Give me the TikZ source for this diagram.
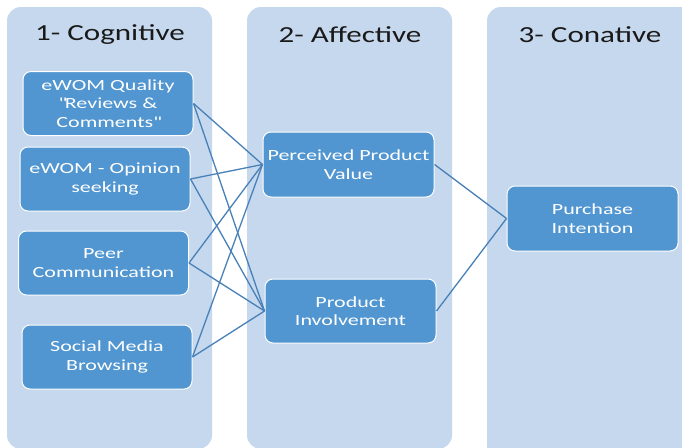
\documentclass[tikz,border=0pt]{standalone}
\usepackage{fontspec}
\setmainfont{Carlito}[FakeStretch=1.35]
\newfontfamily\boxfont{Carlito}[FakeStretch=1.42]
\usepackage{xcolor}
\usepackage{tikz}
\usetikzlibrary{positioning,shapes,arrows.meta,calc}
\definecolor{colbg}{RGB}{198,216,237}
\definecolor{boxblue}{RGB}{81,150,208}
\definecolor{linkblue}{RGB}{72,128,184}
\definecolor{titleblack}{RGB}{25,25,25}
\tikzstyle{col}=[%
      fill=colbg, draw=none, rounded corners=14pt
]
\tikzstyle{ttl}=[%
      text=titleblack, font=\fontsize{23}{26}\selectfont, inner sep=0pt
]
\tikzstyle{bx}=[%
      rectangle, rounded corners=8pt, draw=white, line width=1pt, fill=boxblue,
      text=white, font=\boxfont\fontsize{15.5}{18.5}\selectfont, align=center,
      minimum width=170pt, minimum height=64pt, inner sep=2pt
]
\tikzstyle{lnk}=[%
      draw=linkblue, line width=1.3pt
]

\begin{document}
\begin{tikzpicture}[x=1pt,y=-1pt]
    \clip (0,0) rectangle (682,447);
    \fill[white] (0,0) rectangle (682,447);

    % the three stages
    \fill[col] (7,7) rectangle (212,449);
    \fill[col] (247,7) rectangle (452,449);
    \fill[col] (487,7) rectangle (720,470);

    \node[ttl] (t1) at (110,35) {1- Cognitive};
    \node[ttl] (t2) at (350,35) {2- Affective};
    \node[ttl] (t3) at (590,35) {3- Conative};

    % cognitive
    \node[bx] (qual) at (108,103.5) {eWOM Quality\\\textquotedbl Reviews \&\\Comments\textquotedbl};
    \node[bx] (opin) at (105,179)   {eWOM - Opinion\\seeking};
    \node[bx] (peer) at (103.5,263) {Peer\\Communication};
    \node[bx] (soc)  at (107,357)   {Social Media\\Browsing};

    % affective
    \node[bx, minimum width=171pt, minimum height=65pt] (val) at (348.5,164.5) {Perceived Product\\Value};
    \node[bx, minimum width=171pt, minimum height=64pt] (inv) at (350.5,311)   {Product\\Involvement};

    % conative
    \node[bx, minimum width=171pt, minimum height=65pt] (pur) at (592.5,218.5) {Purchase\\Intention};

    \foreach \a in {qual,opin,peer,soc}
      \foreach \b in {val,inv}
        \draw[lnk] (\a.east) -- (\b.west);

    \draw[lnk] (val.east) -- (pur.west);
    \draw[lnk] (inv.east) -- (pur.west);

  \end{tikzpicture}
\end{document}
